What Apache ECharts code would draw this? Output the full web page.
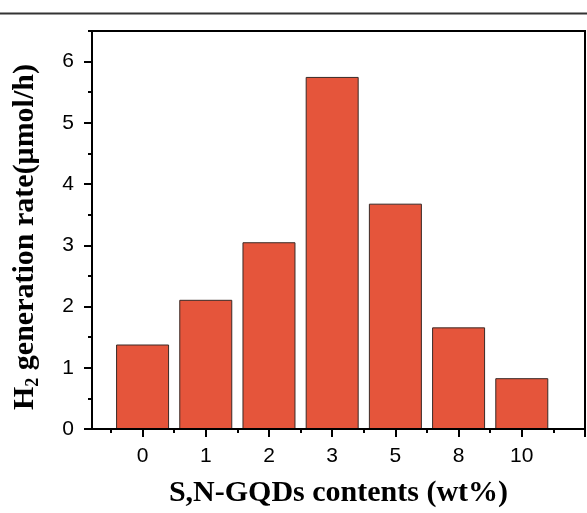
<!DOCTYPE html>
<html>
<head>
<meta charset="utf-8">
<script src="https://cdn.jsdelivr.net/npm/echarts@6/dist/echarts.min.js"></script>
<style>
  html, body { margin: 0; padding: 0; background: #fff; }
  #chart { width: 587px; height: 513px; }
</style>
</head>
<body>
<div id="chart"></div>
<script>
const categories = ['0', '1', '2', '3', '5', '8', '10'];
const rates = [1.38, 2.11, 3.05, 5.75, 3.68, 1.66, 0.83];
const yTicks = [0, 1, 2, 3, 4, 5, 6];
const yMinorTicks = [0.5, 1.5, 2.5, 3.5, 4.5, 5.5, 6.5];
const xTicks = [0, 1, 2, 3, 4, 5, 6, 7];
const xLabelTicks = [0, 1, 2, 3, 4, 5, 6];
const xMinorTicks = [-0.5, 0.5, 1.5, 2.5, 3.5, 4.5, 5.5, 6.5];

const tickFont = { fontFamily: 'Liberation Sans, Arial, sans-serif', fontSize: 21, color: '#000' };
const titleFont = { fontFamily: 'Liberation Serif, Times New Roman, serif', fontWeight: 'bold', fontSize: 30, color: '#000' };

let chart = echarts.init(document.getElementById('chart'));

chart.setOption({
    animation: false,
    graphic: [{
        type: 'line',
        shape: { x1: 0, y1: 13.5, x2: 587, y2: 13.5 },
        style: { stroke: '#333', lineWidth: 2 }
    }],
    grid: {
        left: 92, right: 2, top: 31, bottom: 79,
        show: true, borderColor: '#000', borderWidth: 2, backgroundColor: 'transparent'
    },
    xAxis: [{
        type: 'value', min: -0.8, max: 7, position: 'bottom', z: 5,
        axisLine: { show: true, onZero: false, lineStyle: { color: '#000', width: 2 } },
        axisTick: { show: true, customValues: xTicks, length: 8, lineStyle: { color: '#000', width: 2 } },
        axisLabel: Object.assign({ customValues: xLabelTicks, margin: 17, formatter: v => categories[v] }, tickFont),
        splitLine: { show: false },
        name: 'S,N-GQDs contents (wt%)',
        nameLocation: 'middle', nameGap: 49,
        nameTextStyle: titleFont
    }, {
        type: 'value', min: -0.8, max: 7, position: 'bottom', z: 5,
        axisLine: { show: false, onZero: false },
        axisTick: { show: true, customValues: xMinorTicks, length: 4, lineStyle: { color: '#000', width: 2 } },
        axisLabel: { show: false },
        splitLine: { show: false }
    }],
    yAxis: [{
        type: 'value', min: 0, max: 6.5, interval: 1, position: 'left', z: 5,
        axisLine: { show: true, onZero: false, lineStyle: { color: '#000', width: 2 } },
        axisTick: { show: true, customValues: yTicks, length: 8, lineStyle: { color: '#000', width: 2 } },
        axisLabel: Object.assign({ customValues: yTicks, margin: 18 }, tickFont),
        splitLine: { show: false },
        name: '{t|H}{s|2}{t| generation rate(μmol/h)}',
        nameLocation: 'middle', nameGap: 50,
        nameTextStyle: {
            padding: [0, 14, 0, 0],
            rich: {
                t: titleFont,
                s: Object.assign({}, titleFont, { fontSize: 18, verticalAlign: 'bottom', padding: [16, 0, 0, 0] })
            }
        }
    }, {
        type: 'value', min: 0, max: 6.5, position: 'left', z: 5,
        axisLine: { show: false, onZero: false },
        axisTick: { show: true, customValues: yMinorTicks, length: 4, lineStyle: { color: '#000', width: 2 } },
        axisLabel: { show: false },
        splitLine: { show: false }
    }],
    series: [{
        type: 'bar',
        xAxisIndex: 0,
        yAxisIndex: 0,
        barWidth: 53,
        data: rates.map((v, i) => [i, v]),
        itemStyle: { color: '#E5553B', borderColor: '#3a2a26', borderWidth: 1 }
    }]
});
</script>
</body>
</html>
